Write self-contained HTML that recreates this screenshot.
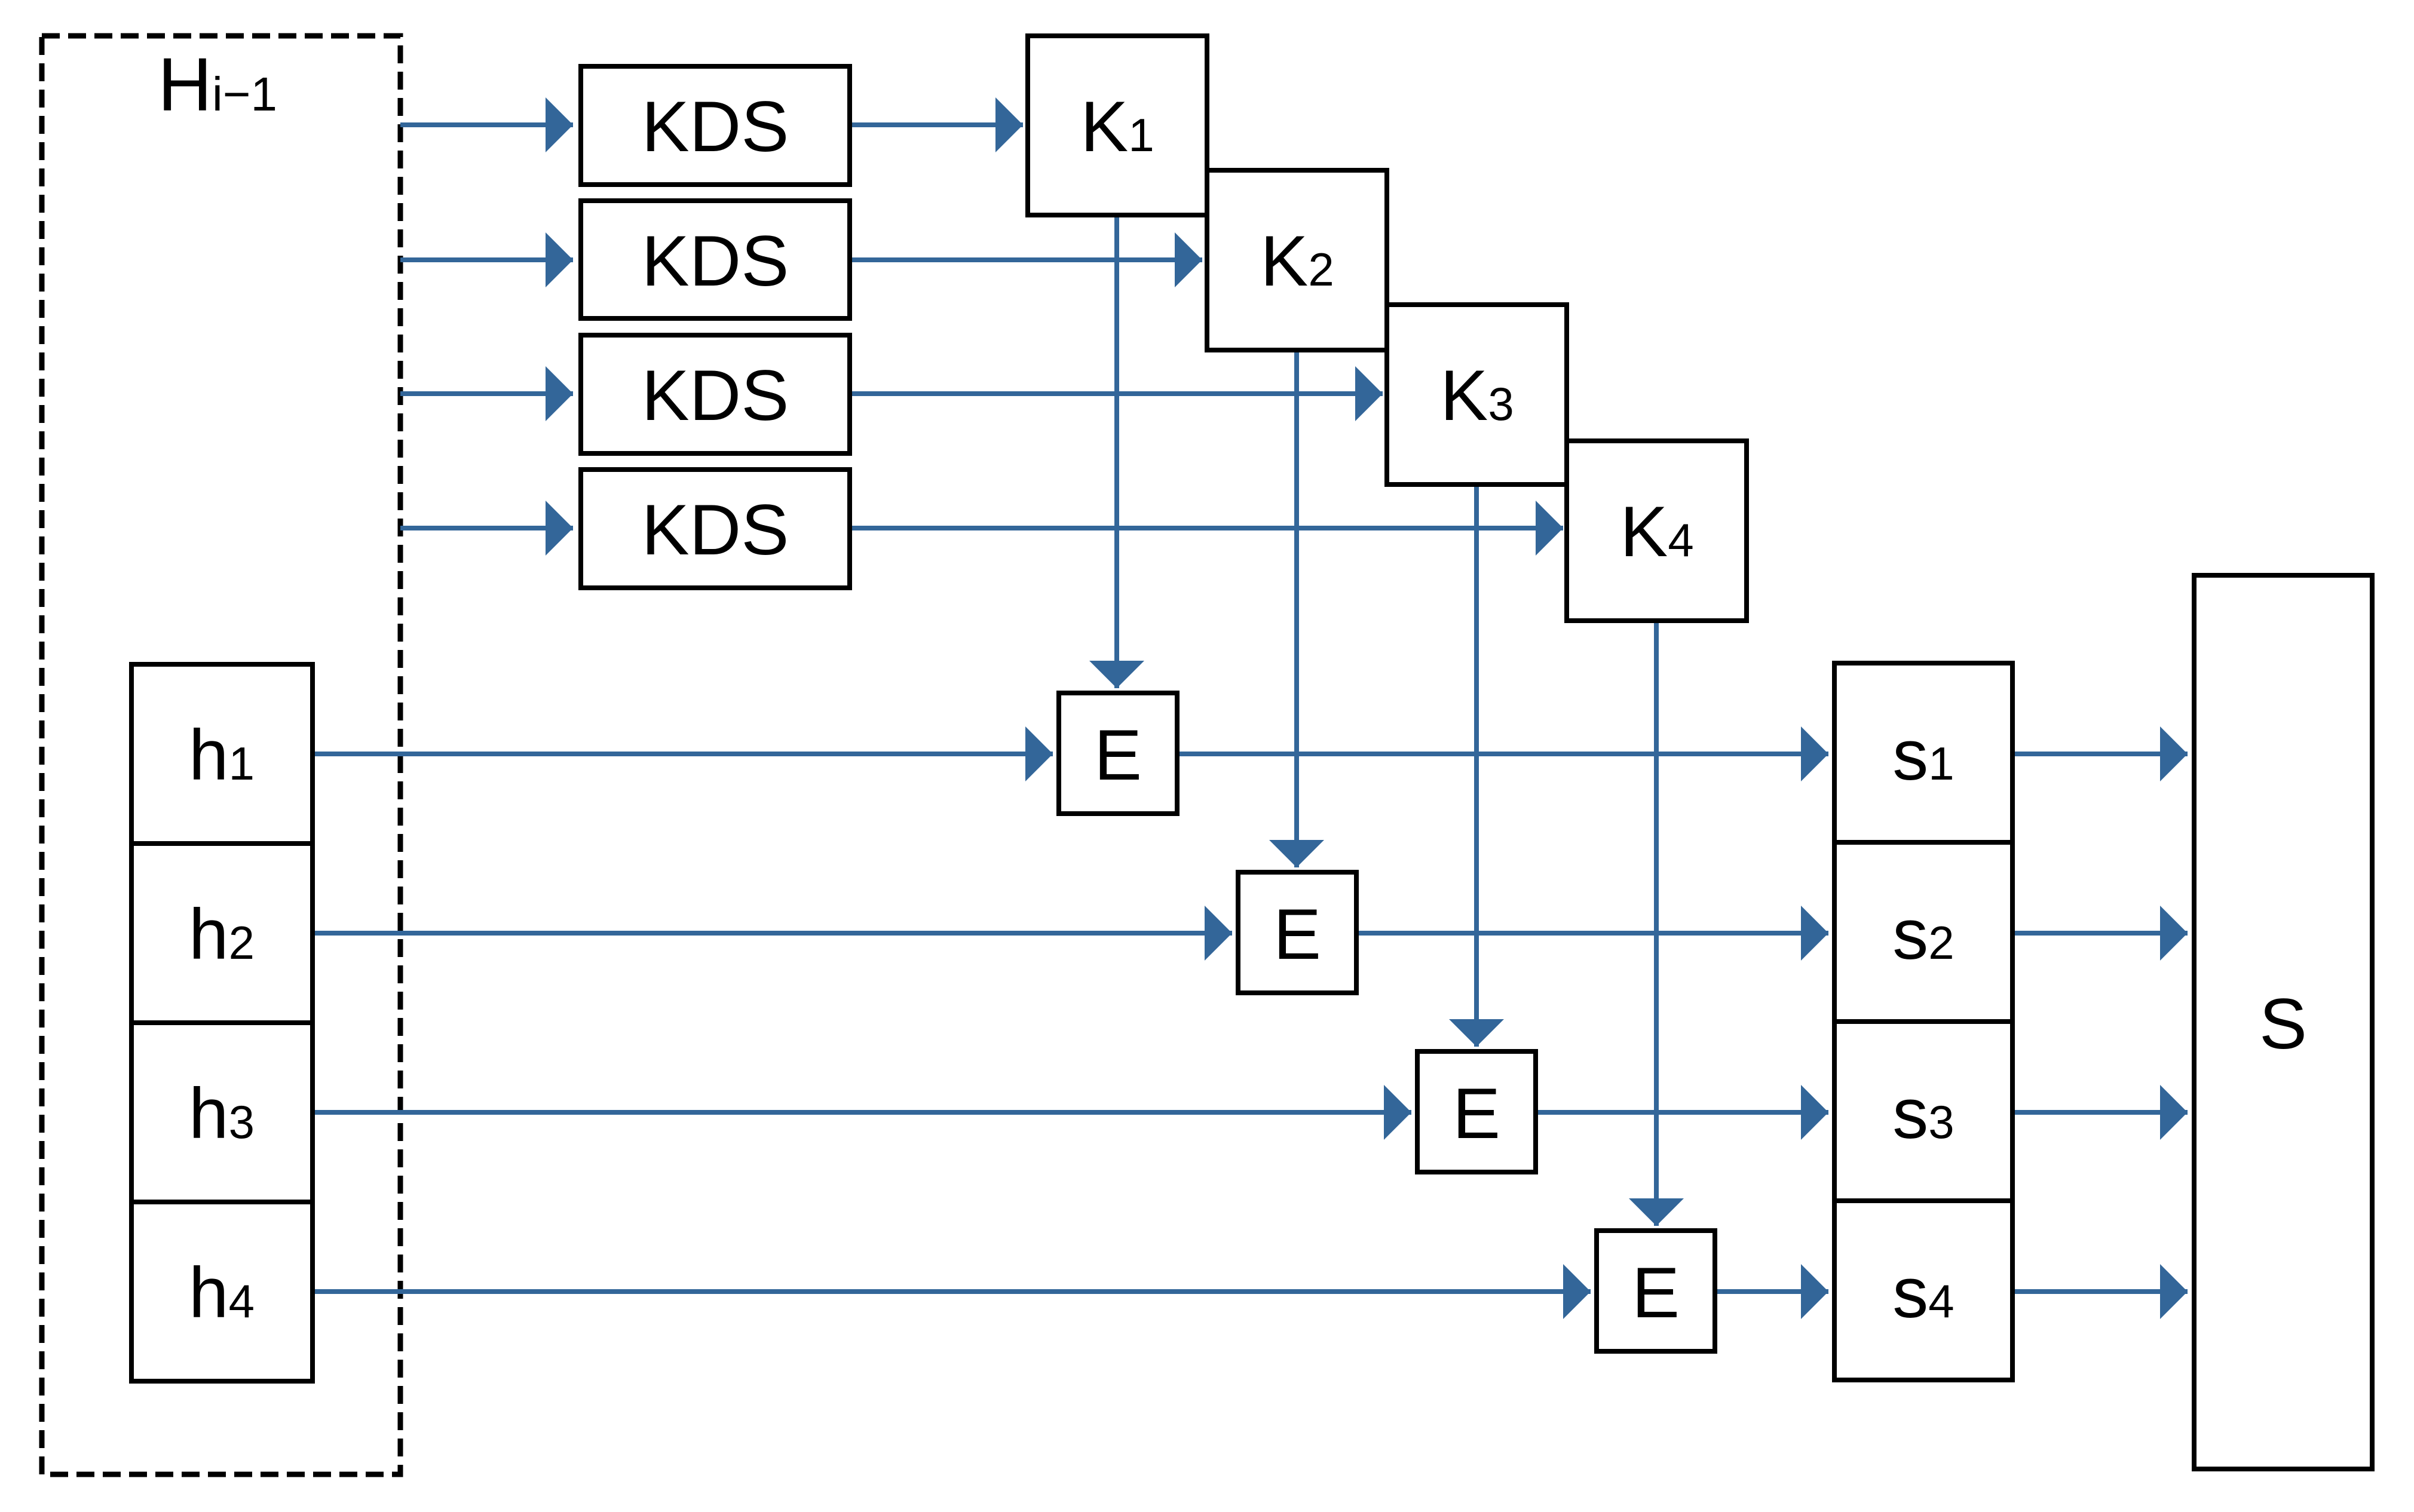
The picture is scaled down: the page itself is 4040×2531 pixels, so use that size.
<!DOCTYPE html>
<html><head><meta charset="utf-8"><style>
html,body{margin:0;padding:0;background:#fff;}
svg{display:block;}
text{font-family:"Liberation Sans","DejaVu Sans",sans-serif;fill:#000;}
</style></head><body>
<svg width="4040" height="2531" viewBox="0 0 4040 2531" xmlns="http://www.w3.org/2000/svg">
<defs>
<marker id="ar" markerUnits="userSpaceOnUse" markerWidth="50" markerHeight="92" refX="46" refY="46" orient="auto">
<path d="M0,0 L46,46 L0,92 Z" fill="#336699"/>
</marker>
</defs>
<rect width="4040" height="2531" fill="#fff"/>
<rect x="70" y="60" width="600" height="2408" fill="none" stroke="#000" stroke-width="9" stroke-dasharray="30 14"/>
<text x="264" y="185" font-size="126">H<tspan font-size="80">i−1</tspan></text>

<g stroke="#336699" stroke-width="8" fill="none" marker-end="url(#ar)">
<line x1="670" y1="209" x2="959" y2="209"/>
<line x1="670" y1="435" x2="959" y2="435"/>
<line x1="670" y1="659" x2="959" y2="659"/>
<line x1="670" y1="884" x2="959" y2="884"/>
<line x1="1420" y1="209" x2="1712" y2="209"/>
<line x1="1420" y1="435" x2="2012" y2="435"/>
<line x1="1420" y1="659" x2="2314" y2="659"/>
<line x1="1420" y1="884" x2="2616" y2="884"/>
<line x1="1869" y1="360" x2="1869" y2="1152"/>
<line x1="2170" y1="586" x2="2170" y2="1452"/>
<line x1="2471" y1="811" x2="2471" y2="1752"/>
<line x1="2772" y1="1039" x2="2772" y2="2052"/>
<line x1="523" y1="1262" x2="1762" y2="1262"/>
<line x1="523" y1="1562" x2="2062" y2="1562"/>
<line x1="523" y1="1862" x2="2362" y2="1862"/>
<line x1="523" y1="2162" x2="2662" y2="2162"/>
<line x1="1970" y1="1262" x2="3060" y2="1262"/>
<line x1="2270" y1="1562" x2="3060" y2="1562"/>
<line x1="2570" y1="1862" x2="3060" y2="1862"/>
<line x1="2870" y1="2162" x2="3060" y2="2162"/>
<line x1="3368" y1="1262" x2="3661" y2="1262"/>
<line x1="3368" y1="1562" x2="3661" y2="1562"/>
<line x1="3368" y1="1862" x2="3661" y2="1862"/>
<line x1="3368" y1="2162" x2="3661" y2="2162"/>
</g>

<g fill="#fff" stroke="#000" stroke-width="8">
<rect x="972" y="111" width="450" height="198"/>
<rect x="972" y="336" width="450" height="197"/>
<rect x="972" y="561" width="450" height="198"/>
<rect x="972" y="786" width="450" height="198"/>
<rect x="1720" y="60" width="300" height="300"/>
<rect x="2020" y="285" width="301" height="301"/>
<rect x="2321" y="510" width="301" height="301"/>
<rect x="2622" y="738" width="301" height="301"/>
<rect x="1772" y="1160" width="198" height="202"/>
<rect x="2072" y="1460" width="198" height="202"/>
<rect x="2372" y="1760" width="198" height="202"/>
<rect x="2672" y="2060" width="198" height="202"/>
<rect x="220" y="1112" width="303" height="300"/>
<rect x="220" y="1412" width="303" height="300"/>
<rect x="220" y="1712" width="303" height="300"/>
<rect x="220" y="2012" width="303" height="300"/>
<rect x="3070" y="1110" width="298" height="300"/>
<rect x="3070" y="1410" width="298" height="300"/>
<rect x="3070" y="1710" width="298" height="300"/>
<rect x="3070" y="2010" width="298" height="300"/>
<rect x="3672" y="963" width="298" height="1496"/>
</g>

<g font-size="120" text-anchor="middle">
<text x="1197" y="253">KDS</text>
<text x="1197" y="478">KDS</text>
<text x="1197" y="703">KDS</text>
<text x="1197" y="928">KDS</text>
<text x="1870" y="253">K<tspan font-size="78">1</tspan></text>
<text x="2171" y="478">K<tspan font-size="78">2</tspan></text>
<text x="2472" y="703">K<tspan font-size="78">3</tspan></text>
<text x="2773" y="931">K<tspan font-size="78">4</tspan></text>
<text x="1871" y="1305">E</text>
<text x="2171" y="1605">E</text>
<text x="2471" y="1905">E</text>
<text x="2771" y="2205">E</text>
<text x="371" y="1305">h<tspan font-size="78">1</tspan></text>
<text x="371" y="1605">h<tspan font-size="78">2</tspan></text>
<text x="371" y="1905">h<tspan font-size="78">3</tspan></text>
<text x="371" y="2205">h<tspan font-size="78">4</tspan></text>
<text x="3219" y="1305">s<tspan font-size="78">1</tspan></text>
<text x="3219" y="1605">s<tspan font-size="78">2</tspan></text>
<text x="3219" y="1905">s<tspan font-size="78">3</tspan></text>
<text x="3219" y="2205">s<tspan font-size="78">4</tspan></text>
<text x="3821" y="1755">S</text>
</g>
</svg>
</body></html>
